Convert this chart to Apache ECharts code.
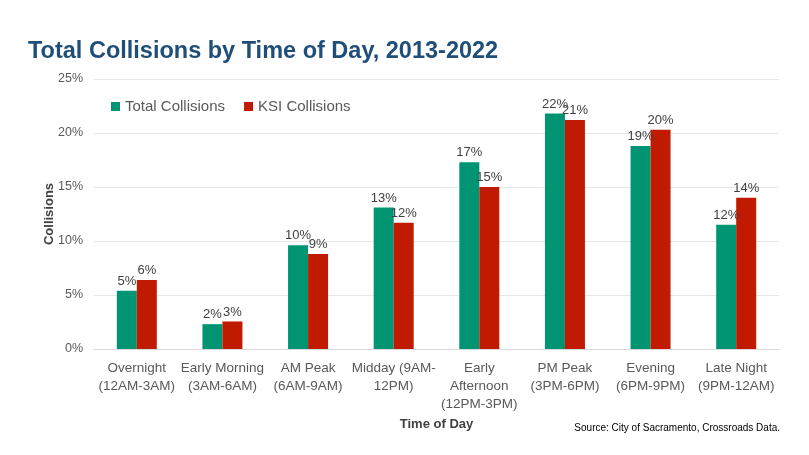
<!DOCTYPE html>
<html><head><meta charset="utf-8">
<script src="https://cdn.jsdelivr.net/npm/echarts@6/dist/echarts.min.js"></script>
<style>html,body{margin:0;padding:0;background:#fff}#c{width:809px;height:455px}</style>
</head><body><div id="c"></div>
<script>
var categories = ['Overnight\n(12AM-3AM)','Early Morning\n(3AM-6AM)','AM Peak\n(6AM-9AM)','Midday (9AM-\n12PM)','Early\nAfternoon\n(12PM-3PM)','PM Peak\n(3PM-6PM)','Evening\n(6PM-9PM)','Late Night\n(9PM-12AM)'];
var totalCollisions = [5.4, 2.3, 9.6, 13.1, 17.3, 21.8, 18.8, 11.5];
var ksiCollisions = [6.4, 2.55, 8.8, 11.7, 15.0, 21.2, 20.3, 14.0];
var yTicks = [0, 5, 10, 15, 20, 25];

var chart = echarts.init(document.getElementById('c'));
var font = 'Liberation Sans, Arial, sans-serif';
var lbl = {show:true, position:'top', distance:3, color:'#404040', fontSize:13, fontFamily:font,
  formatter:function(p){return Math.round(p.value)+'%';}};
chart.setOption({
  animation:false,
  title:{text:'Total Collisions by Time of Day, 2013-2022', left:23, top:35,
    textStyle:{color:'#1F4E79', fontSize:23.5, fontWeight:'bold', fontFamily:font}},
  legend:{left:106, top:94, itemWidth:9, itemHeight:9, itemGap:19, icon:'rect',
    textStyle:{color:'#595959', fontSize:15, fontFamily:font}},
  grid:{left:94, right:30, top:79, bottom:106},
  xAxis:{type:'category', data:categories, name:'Time of Day', nameLocation:'middle', nameGap:66,
    nameTextStyle:{color:'#404040', fontSize:13, fontWeight:'bold', fontFamily:font},
    axisLine:{lineStyle:{color:'#d9d9d9'}}, axisTick:{show:false},
    axisLabel:{interval:0, color:'#595959', fontSize:13.5, lineHeight:18, margin:10, fontFamily:font}},
  yAxis:{type:'value', min:yTicks[0], max:yTicks[yTicks.length-1], interval:5,
    name:'Collisions', nameLocation:'middle', nameGap:38, nameMoveOverlap:false,
    nameTextStyle:{color:'#404040', fontSize:13, fontWeight:'bold', fontFamily:font},
    axisLine:{show:false}, axisTick:{show:false},
    axisLabel:{color:'#595959', fontSize:12.5, margin:11, fontFamily:font, formatter:'{value}%'},
    splitLine:{lineStyle:{color:'#e6e6e6'}}},
  graphic:[{type:'text', right:29, top:423, style:{text:'Source: City of Sacramento, Crossroads Data.',
    fill:'#000', fontSize:10, fontFamily:font}}],
  series:[
    {name:'Total Collisions', type:'bar', data:totalCollisions, barWidth:20, barGap:'0%',
      itemStyle:{color:'#009473'}, label:lbl},
    {name:'KSI Collisions', type:'bar', data:ksiCollisions, barWidth:20,
      itemStyle:{color:'#C01A00'}, label:lbl}
  ]
});
</script></body></html>
